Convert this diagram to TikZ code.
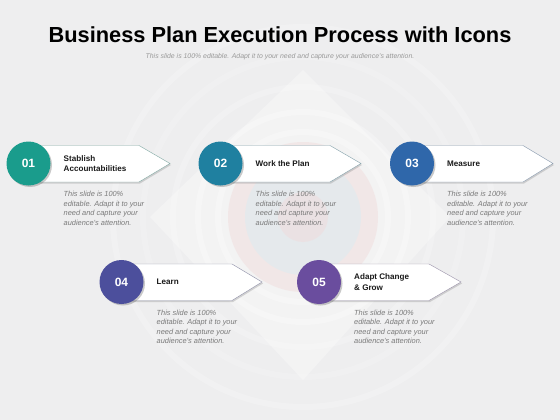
\documentclass[tikz,border=0pt]{standalone}
\usepackage{fontspec}
\setmainfont{Liberation Sans}
\usetikzlibrary{shadows}
\definecolor{bgc}{HTML}{EEEEEF}
\definecolor{cA}{HTML}{1A9C8C}
\definecolor{cB}{HTML}{1F80A0}
\definecolor{cC}{HTML}{2F67AA}
\definecolor{cD}{HTML}{4C4F9C}
\definecolor{cE}{HTML}{6A4D9E}
\definecolor{desc}{HTML}{7A7A7A}
\tikzset{
  numcirc/.style={circle, minimum size=44pt, inner sep=0pt, text=white,
    font=\bfseries\fontsize{12}{12}\selectfont,
    drop shadow={shadow xshift=1.5pt, shadow yshift=-1.5pt, fill=black!60, opacity=0.35}},
  arrowbox/.style={fill=white, line width=0.45pt,
    drop shadow={shadow xshift=1pt, shadow yshift=-1.5pt, fill=black!50, opacity=0.3}},
  steptitle/.style={anchor=west, align=left, inner sep=0pt,
    font=\bfseries\fontsize{8.1}{10.5}\selectfont, text=black!90},
  stepdesc/.style={anchor=north west, align=left, inner sep=0pt,
    font=\itshape\fontsize{7.4}{9.5}\selectfont, text=desc},
}
\newcommand{\stepitem}[8]{%
  % #1 name, #2 cx, #3 cy, #4 notch x, #5 tip x, #6 colour, #7 number, #8 title
  \draw[arrowbox, draw=#6!40!gray!70] (#2+6,#3-18) -- (#4,#3-18) -- (#5,#3) -- (#4,#3+18.5) -- (#2+6,#3+18.5) -- cycle;
  \node[numcirc, fill=#6] (#1c) at (#2,#3) {#7};
  \node[steptitle] (#1t) at (#2+35,#3) {#8};
  \node[stepdesc] (#1d) at (#2+35,#3+27.5) {This slide is 100\%\\editable. Adapt it to your\\need and capture your\\audience's attention.};
}
\begin{document}
\begin{tikzpicture}[x=1pt,y=-1pt]
\fill[bgc] (0,0) rectangle (560,420);
\useasboundingbox (0,0) rectangle (560,420);
% faint background target
\begin{scope}
\fill[white, opacity=0.3] (303,70) -- (450,217) -- (303,380) -- (150,217) -- cycle;
\foreach \r/\o in {190/0.2,160/0.15,130/0.2,105/0.25,85/0.3}{
  \draw[white, line width=6pt, opacity=\o] (303,217) circle (\r);
}
\fill[red!12!bgc, opacity=0.35] (303,217) circle (75);
\fill[cyan!8!bgc, opacity=0.6] (303,217) circle (58);
\fill[red!8!bgc, opacity=0.5] (303,217) circle (25);
\end{scope}
\node[font=\bfseries\fontsize{21.8}{22}\selectfont, text=black] (title) at (280,35) {Business Plan Execution Process with Icons};
\node[font=\itshape\fontsize{6.9}{7}\selectfont, text=black!40] (sub) at (280,57) {This slide is 100\% editable. Adapt it to your need and capture your audience's attention.};
\stepitem{a}{28.5}{163.5}{139}{170}{cA}{01}{Stablish\\Accountabilities}
\stepitem{b}{220.5}{163.5}{330}{361}{cB}{02}{Work the Plan}
\stepitem{c}{412}{163.5}{523}{553}{cC}{03}{Measure}
\stepitem{d}{121.5}{282}{232}{262}{cD}{04}{Learn}
\stepitem{e}{319}{282}{429}{461}{cE}{05}{Adapt Change\\\& Grow}
\end{tikzpicture}
\end{document}
